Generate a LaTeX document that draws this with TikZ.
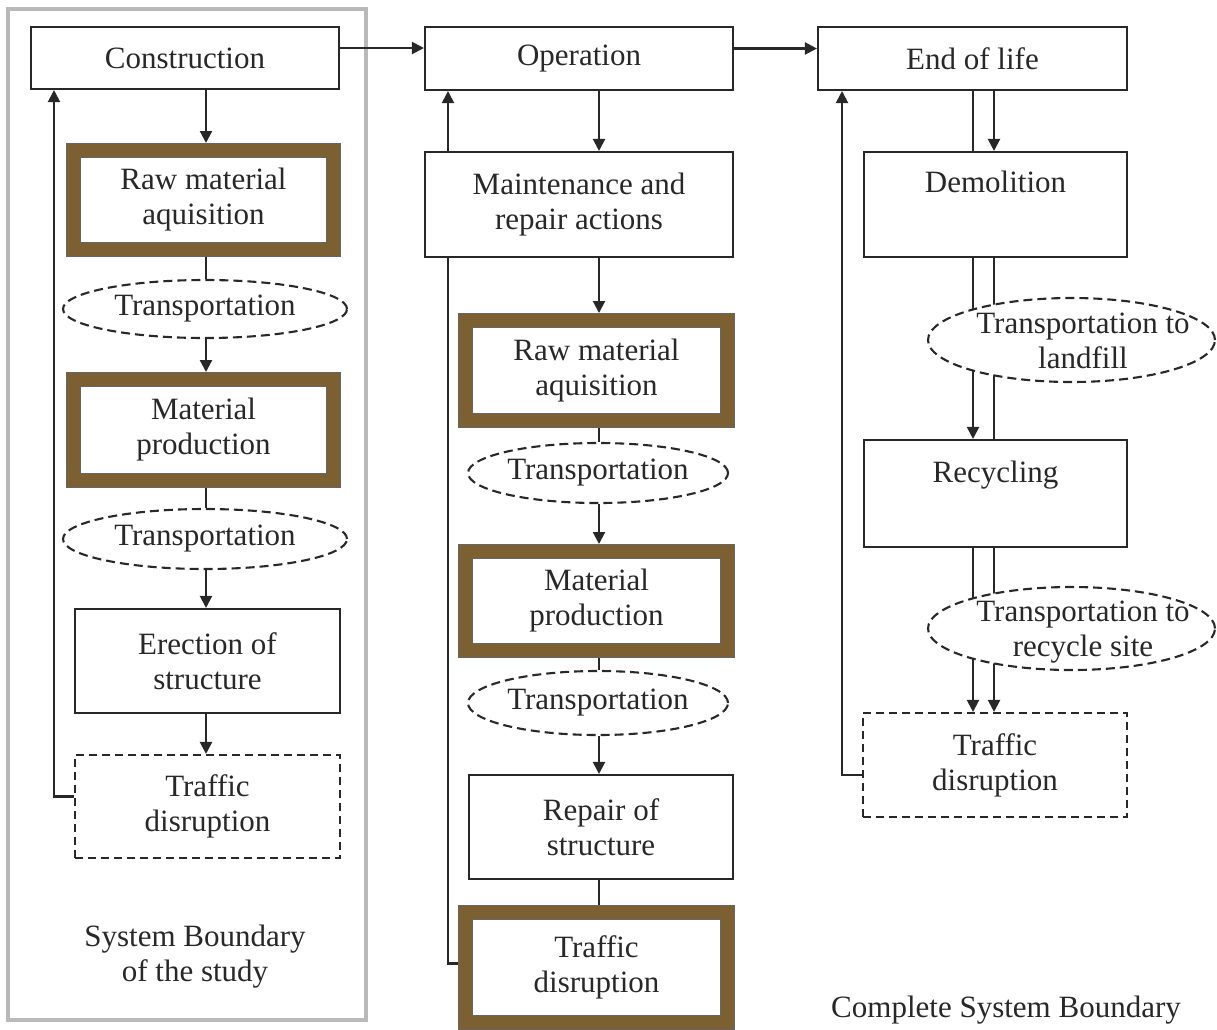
\documentclass[tikz,border=0pt]{standalone}
\usepackage{fontspec}
\setmainfont{Liberation Serif}
\usetikzlibrary{shapes.geometric,arrows.meta,backgrounds,calc}
\definecolor{brownc}{RGB}{125,96,50}
\definecolor{ink}{RGB}{40,40,40}
\begin{document}
\begin{tikzpicture}[x=1pt,y=-1pt,
  every node/.style={font=\fontsize{31}{35}\selectfont, text=ink, align=center},
  box/.style={draw=ink, line width=2.1pt, fill=white, inner sep=0pt},
  dbox/.style={box, dash pattern=on 8pt off 5pt},
  bbox/.style={draw=black!60, line width=1pt, double=brownc, double distance=13pt, fill=white, inner sep=0pt, outer sep=7.5pt},
  ell/.style={ellipse, draw=ink, line width=2.1pt, dash pattern=on 9pt off 5pt, fill=white, inner sep=0pt},
  con/.style={draw=ink, line width=2.1pt},
  arr/.style={con, -{Triangle[length=12pt,width=12pt]}},
]
\useasboundingbox (0,0) rectangle (1217,1029);

% top row
\node[box, minimum width=308pt, minimum height=62pt] (con) at (185,58) {Construction};
\node[box, minimum width=308pt, minimum height=63pt] (op) at (579,58.5) {Operation};
\node[box, minimum width=309pt, minimum height=63pt] (eol) at (972.5,58.5) {End of life};

% left column
\node[bbox, minimum width=260pt, minimum height=99pt] (raw1) at (203.5,200) {Raw material\\aquisition};
\node[ell, minimum width=284pt, minimum height=58pt] (tr1) at (205,309) {Transportation};
\node[bbox, minimum width=260pt, minimum height=101pt] (mat1) at (203.5,430) {Material\\production};
\node[ell, minimum width=284pt, minimum height=60pt] (tr2) at (205,539) {Transportation};
\node[box, minimum width=265pt, minimum height=104pt] (ere) at (207.5,661) {Erection of\\structure};
\node[dbox, minimum width=265pt, minimum height=103pt] (td1) at (207.5,806.5) {Traffic\\disruption};
\node (sbt) at (195,957) {System Boundary\\of the study};

% middle column
\node[box, minimum width=308pt, minimum height=105pt] (mr) at (579,204.5) {Maintenance and\\repair actions};
\node[bbox, minimum width=262pt, minimum height=100pt] (raw2) at (596.5,370.5) {Raw material\\aquisition};
\node[ell, minimum width=260pt, minimum height=60pt] (tr3) at (598,473) {Transportation};
\node[bbox, minimum width=262pt, minimum height=99pt] (mat2) at (596.5,601) {Material\\production};
\node[ell, minimum width=260pt, minimum height=64pt] (tr4) at (598,703) {Transportation};
\node[box, minimum width=264pt, minimum height=104pt] (rep) at (601,827) {Repair of\\structure};
\node[bbox, minimum width=262pt, minimum height=110pt] (td2) at (596.5,967.5) {Traffic\\disruption};

% right column
\node[box, minimum width=263pt, minimum height=105pt, text height=21pt, text depth=46pt] (dem) at (995.5,204.5) {Demolition};
\node[ell, minimum width=287pt, minimum height=84pt] (tl) at (1071.5,340) {};
\node (tlt) at (1083,341) {Transportation to\\landfill};
\node[box, minimum width=263pt, minimum height=107pt, text height=21pt, text depth=44pt] (rec) at (995.5,493.5) {Recycling};
\node[ell, minimum width=287pt, minimum height=83pt] (trs) at (1071.5,628.5) {};
\node (trst) at (1083,632) {Transportation to\\recycle site};
\node[dbox, minimum width=264pt, minimum height=104pt] (td3) at (995,765) {Traffic\\disruption};
\node (csb) at (1006,1010) {Complete System Boundary};

\coordinate (lx) at (206,0);
\coordinate (mx) at (599,0);
\coordinate (ra) at (973,0);
\coordinate (rb) at (994,0);
\coordinate (fl) at (54,0);
\coordinate (fm) at (448,0);
\coordinate (fr) at (842,0);

\begin{scope}[on background layer]
\fill[white] (0,0) rectangle (1217,1029);
\node[draw=gray!55, line width=3.5pt, minimum width=358pt, minimum height=1011pt, inner sep=0pt] (sysb) at (187,514.5) {};
% top
\draw[arr] ([yshift=10pt]con.east) -- ([yshift=10pt]con.east -| op.west);
\draw[arr] ([yshift=10pt]op.east) -- ([yshift=10pt]op.east -| eol.west);
% left
\draw[arr] (con.south -| lx) -- (raw1.north -| lx);
\draw[con] (raw1.south -| lx) -- (tr1.north -| lx);
\draw[arr] (tr1.south -| lx) -- (mat1.north -| lx);
\draw[con] (mat1.south -| lx) -- (tr2.north -| lx);
\draw[arr] (tr2.south -| lx) -- (ere.north -| lx);
\draw[arr] (ere.south -| lx) -- (td1.north -| lx);
\draw[arr] ([yshift=10pt]td1.west) -| (con.south -| fl);
% middle
\draw[arr] (op.south -| mx) -- (mr.north -| mx);
\draw[arr] (mr.south -| mx) -- (raw2.north -| mx);
\draw[con] (raw2.south -| mx) -- (tr3.north -| mx);
\draw[arr] (tr3.south -| mx) -- (mat2.north -| mx);
\draw[con] (mat2.south -| mx) -- (tr4.north -| mx);
\draw[arr] (tr4.south -| mx) -- (rep.north -| mx);
\draw[con] (rep.south -| mx) -- (td2.north -| mx);
\draw[arr] ([yshift=4pt]td2.west) -| (op.south -| fm);
% right
\draw[con] (eol.south -| ra) -- (dem.north -| ra);
\draw[arr] (eol.south -| rb) -- (dem.north -| rb);
\draw[arr] (dem.south -| ra) -- (rec.north -| ra);
\draw[con] (dem.south -| rb) -- (rec.north -| rb);
\draw[arr] (rec.south -| ra) -- (td3.north -| ra);
\draw[arr] (rec.south -| rb) -- (td3.north -| rb);
\draw[arr] ([yshift=-10pt]td3.west) -| (eol.south -| fr);
\end{scope}
\end{tikzpicture}
\end{document}
